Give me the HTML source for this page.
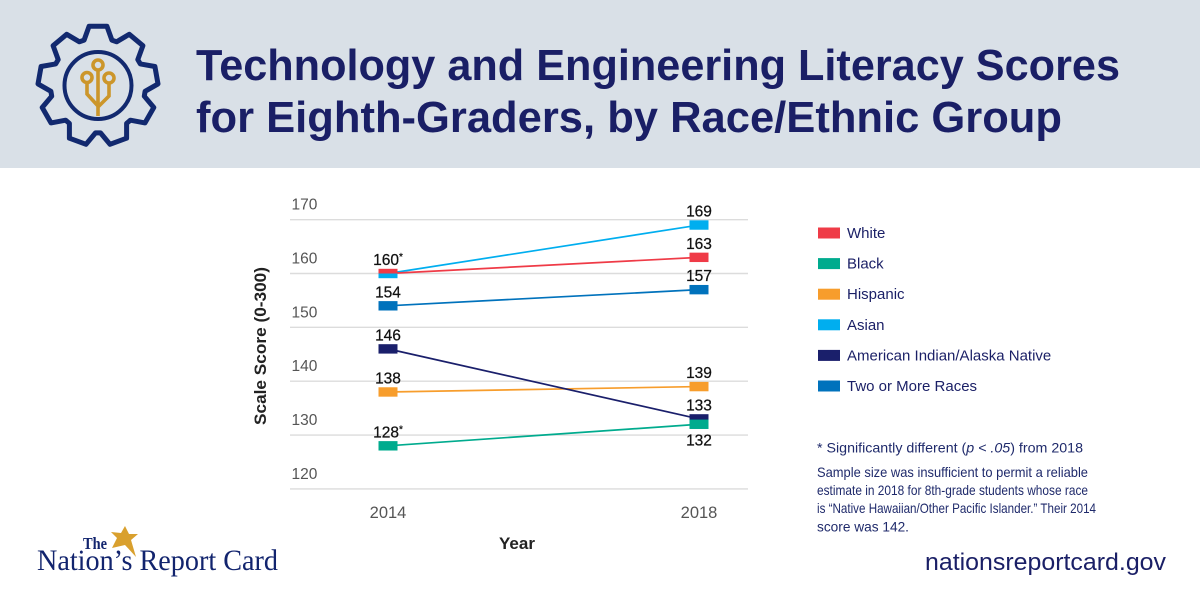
<!DOCTYPE html>
<html lang="en">
<head>
<meta charset="utf-8">
<title>Technology and Engineering Literacy Scores</title>
<style>
html,body{margin:0;padding:0;background:#fff;width:1200px;height:600px;overflow:hidden}
svg{display:block}
text{font-family:"Liberation Sans",sans-serif}
.serif{font-family:"Liberation Serif",serif}
</style>
</head>
<body>
<svg id="chart" xmlns="http://www.w3.org/2000/svg" width="1200" height="600" viewBox="0 0 1200 600">
  <rect width="1200" height="600" fill="#ffffff"/>
  <rect width="1200" height="168" fill="#d9e0e7"/>
  <g id="logo">
    <path id="gear" fill="none" stroke="#12296f" stroke-width="5" stroke-linejoin="round"/>
    <circle cx="98" cy="85.5" r="33.5" fill="none" stroke="#12296f" stroke-width="4"/>
    <g fill="none" stroke="#cc962b" stroke-width="3.6">
      <circle cx="98" cy="65" r="5"/>
      <circle cx="87" cy="77.5" r="5"/>
      <circle cx="109" cy="78" r="5"/>
      <path d="M98 70V116M87 82.5V94L98 106M109 83V96L98 107"/>
    </g>
  </g>
  <text x="196" y="80" font-size="43.5" font-weight="700" fill="#1a1f66" textLength="924" lengthAdjust="spacingAndGlyphs">Technology and Engineering Literacy Scores</text>
  <text x="196" y="132" font-size="43.5" font-weight="700" fill="#1a1f66" textLength="866" lengthAdjust="spacingAndGlyphs">for Eighth-Graders, by Race/Ethnic Group</text>

  <g id="grid"></g>
  <g id="yticks"></g>
  <g id="xticks"></g>
  <text transform="translate(266,346) rotate(-90)" text-anchor="middle" font-size="17" font-weight="700" fill="#222222" textLength="158" lengthAdjust="spacingAndGlyphs">Scale Score (0-300)</text>
  <text x="517" y="549" text-anchor="middle" font-size="17" font-weight="700" fill="#222222">Year</text>
  <g id="series"></g>
  <g id="labels"></g>
  <g id="legend"></g>

  <g font-size="14" fill="#1f2a6b">
    <text x="817" y="452.5" textLength="266" lengthAdjust="spacingAndGlyphs">* Significantly different (<tspan font-style="italic">p &lt; .05</tspan>) from 2018</text>
    <text x="817" y="477" textLength="271" lengthAdjust="spacingAndGlyphs">Sample size was insufficient to permit a reliable</text>
    <text x="817" y="495" textLength="271" lengthAdjust="spacingAndGlyphs">estimate in 2018 for 8th-grade students whose race</text>
    <text x="817" y="513" textLength="279" lengthAdjust="spacingAndGlyphs">is “Native Hawaiian/Other Pacific Islander.” Their 2014</text>
    <text x="817" y="531.5" textLength="92" lengthAdjust="spacingAndGlyphs">score was 142.</text>
  </g>

  <g>
    <text class="serif" x="83" y="549" font-size="17" font-weight="700" fill="#12246e" textLength="24" lengthAdjust="spacingAndGlyphs">The</text>
    <text class="serif" x="37" y="570" font-size="30" fill="#12246e" textLength="241" lengthAdjust="spacingAndGlyphs">Nation’s Report Card</text>
    <polygon points="125,526 129,534 138,534 131,540 136,557 125,545 112,548 117,538 111,532 121,533" fill="#d9a02e"/>
  </g>
  <text x="925" y="570" font-size="24.5" fill="#1a1f66" textLength="241" lengthAdjust="spacingAndGlyphs">nationsreportcard.gov</text>
</svg>
<script>
const years = ["2014", "2018"];
const yTicks = [120, 130, 140, 150, 160, 170];
const seriesNames = ["Asian", "White", "Two or More Races", "Hispanic", "American Indian/Alaska Native", "Black"];
const legendOrder = ["White", "Black", "Hispanic", "Asian", "American Indian/Alaska Native", "Two or More Races"];
const asianValues = [160, 169];
const whiteValues = [160, 163];
const twoValues = [154, 157];
const hispanicValues = [138, 139];
const aianValues = [146, 133];
const blackValues = [128, 132];
const asianLabels = ["", "169"];
const whiteLabels = ["160*", "163"];
const twoLabels = ["154", "157"];
const hispanicLabels = ["138", "139"];
const aianLabels = ["146", "133"];
const blackLabels = ["128*", "132"];

const NS = "http://www.w3.org/2000/svg";
const palette = {"White":"#ef3b47","Black":"#00ab8e","Hispanic":"#f79d2c","Asian":"#00aeef","American Indian/Alaska Native":"#1a1f6b","Two or More Races":"#0072bc"};
const valuesOf = {"White":whiteValues,"Black":blackValues,"Hispanic":hispanicValues,"Asian":asianValues,"American Indian/Alaska Native":aianValues,"Two or More Races":twoValues};
const labelsOf = {"White":whiteLabels,"Black":blackLabels,"Hispanic":hispanicLabels,"Asian":asianLabels,"American Indian/Alaska Native":aianLabels,"Two or More Races":twoLabels};

function yScale(v){ return 273.5 + (160 - v) * 5.385; }
function xScale(i){ return 388 + i * 311; }
function make(tag, attrs, parent){
  const el = document.createElementNS(NS, tag);
  for (const k in attrs) el.setAttribute(k, attrs[k]);
  parent.appendChild(el);
  return el;
}
function slug(s){ return s.toLowerCase().replace(/[^a-z0-9]+/g, "-"); }

/* gear logo outline */
(function(){
  const cx = 98, cy = 85.5, teeth = 9, ro = 60, ri = 47.5;
  let d = "";
  for (let t = 0; t < teeth; t++) {
    const a = -90 + t * 360 / teeth;
    const pts = [[a-17,ri],[a-8.5,ro],[a+8.5,ro],[a+17,ri]];
    pts.forEach(function(p, i){
      const r = p[0] * Math.PI / 180;
      d += (t === 0 && i === 0 ? "M" : "L") + (cx + p[1] * Math.cos(r)).toFixed(1) + " " + (cy + p[1] * Math.sin(r)).toFixed(1);
    });
  }
  document.getElementById("gear").setAttribute("d", d + "Z");
})();

const gridG = document.getElementById("grid");
const yG = document.getElementById("yticks");
yTicks.forEach(function(t){
  const line = make("line", {x1:290, x2:748, y1:yScale(t), y2:yScale(t), stroke:"#dcdcdc", "stroke-width":1.4}, gridG);
  
  
  const lab = make("text", {x:291.5, y:yScale(t) - 10, "font-size":15.5, fill:"#555555"}, yG);
  
  
  lab.textContent = t;
});

const xG = document.getElementById("xticks");
years.forEach(function(y, i){
  const lab = make("text", {x:xScale(i), y:518, "text-anchor":"middle", "font-size":16.5, fill:"#555555"}, xG);
  
  
  lab.textContent = y;
});

const seriesG = document.getElementById("series");
seriesNames.forEach(function(name){
  const vals = valuesOf[name], color = palette[name];
  const g = make("g", {}, seriesG);
  
  
  const line = make("line", {x1:xScale(0), y1:yScale(vals[0]), x2:xScale(1), y2:yScale(vals[1]), stroke:color, "stroke-width":1.7}, g);
  
  
});
seriesNames.forEach(function(name){
  const vals = valuesOf[name], color = palette[name];
  vals.forEach(function(v, i){
    /* tied points share one marker slot, split top and bottom */
    const tied = seriesNames.filter(function(n){ return valuesOf[n][i] === v; });
    const h = 9.4;
    const cy = yScale(v);
    let top = cy - h / 2, height = h;
    if (tied.length > 1) {
      height = h / 2;
      top = name === "White" ? cy - h / 2 : cy;
    }
    const m = make("rect", {x:xScale(i) - 9.5, y:top, width:19, height:height, fill:color}, seriesG);
    
    
  });
});

const labelsG = document.getElementById("labels");
seriesNames.forEach(function(name){
  labelsOf[name].forEach(function(text, i){
    if (!text) return;
    const below = name === "Black" && i === 1;
    const yy = yScale(valuesOf[name][i]) + (below ? 21 : -8.5);
    const star = text.endsWith("*");
    const t = make("text", {x:xScale(i), y:yy, "text-anchor":"middle", "font-size":15.5, fill:"#111111", stroke:"#111111", "stroke-width":0.25}, labelsG);
    
    
    t.textContent = star ? text.slice(0, -1) : text;
    if (star) {
      const s = make("tspan", {"font-size":10, dy:-5}, t);
      s.textContent = "*";
    }
  });
});

const legendG = document.getElementById("legend");
legendOrder.forEach(function(name, i){
  const cy = 233 + i * 30.6;
  const g = make("g", {}, legendG);
  
  
  const sw = make("rect", {x:818, y:cy - 5.5, width:22, height:11, fill:palette[name]}, g);
  
  
  const t = make("text", {x:847, y:cy + 5, "font-size":15, fill:"#1a1f66"}, g);
  
  
  t.textContent = name;
});
</script>
</body>
</html>
